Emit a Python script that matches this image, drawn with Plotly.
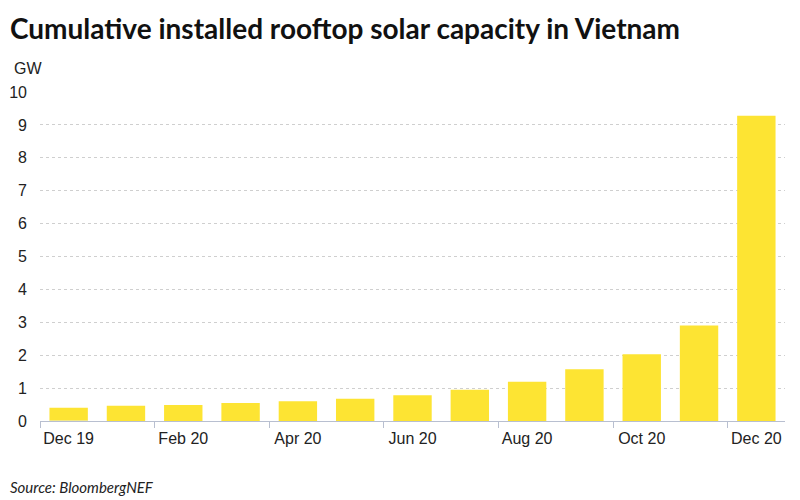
import plotly.graph_objects as go

months = ["Dec 19", "Jan 20", "Feb 20", "Mar 20", "Apr 20", "May 20", "Jun 20",
          "Jul 20", "Aug 20", "Sep 20", "Oct 20", "Nov 20", "Dec 20"]
capacity_gw = [0.40, 0.46, 0.49, 0.55, 0.60, 0.68, 0.78, 0.95, 1.19, 1.57, 2.03, 2.90, 9.28]
label_idx = [0, 2, 4, 6, 8, 10, 12]
label_text = [months[i] for i in label_idx]
tick_bounds = [-0.5, 1.5, 3.5, 5.5, 7.5, 9.5, 11.5]

OFF = 8  # page body margin
W, H = 800 - OFF, 500 - OFF
L, R, T, B = 40 - OFF, 785 - OFF, 92 - OFF, 421 - OFF
PW, PH = R - L, B - T

def px(x):
    return (x - OFF - L) / PW

def py(y):
    return (B - (y - OFF)) / PH

fig = go.Figure()
fig.add_trace(go.Bar(x=list(range(len(months))), y=capacity_gw,
                     marker=dict(color="#FDE433", line=dict(width=0)),
                     hovertext=months, showlegend=False))
fig.add_trace(go.Bar(x=[0], y=[0], xaxis="x2", marker=dict(color="rgba(0,0,0,0)"),
                     showlegend=False, hoverinfo="skip"))

fig.update_layout(
    width=W, height=H,
    paper_bgcolor="white", plot_bgcolor="white",
    margin=dict(l=L, r=W - R, t=T, b=H - B, autoexpand=False),
    bargap=0.33,
    font=dict(family="Liberation Sans, Arial", size=16, color="#222"),
    xaxis=dict(range=[-0.5, 12.5], tickvals=tick_bounds, ticktext=[""] * len(tick_bounds),
               ticks="outside", ticklen=6, tickcolor="#b8bfd0", automargin=False,
               showline=True, linecolor="#b8bfd0", linewidth=1,
               showgrid=False, zeroline=False),
    xaxis2=dict(range=[-0.5, 12.5], overlaying="x", side="bottom", automargin=False,
                tickvals=label_idx, ticktext=label_text, ticks="",
                showgrid=False, zeroline=False, showline=False,
                ticklabelstandoff=6,
                tickfont=dict(size=16, color="#222")),
    yaxis=dict(range=[0, 10], dtick=1, tick0=0, showgrid=True, automargin=False,
               gridcolor="#cfcfcf", griddash="dot", gridwidth=1,
               zeroline=False, ticks="", tickfont=dict(size=16, color="#222"),
               ticklabelstandoff=12),
    annotations=[
        dict(text="<b>Cumulative installed rooftop solar capacity in Vietnam</b>",
             x=px(8), y=py(OFF + 1), xref="paper", yref="paper", xanchor="left", yanchor="top",
             showarrow=False, font=dict(family="Lato, Open Sans", size=28, color="#111")),
        dict(text="GW", x=px(12), y=py(68), xref="paper", yref="paper",
             xanchor="left", yanchor="middle", showarrow=False,
             font=dict(size=16, color="#222")),
        dict(text="<i>Source: BloombergNEF</i>", x=px(8), y=py(487), xref="paper", yref="paper",
             xanchor="left", yanchor="middle", showarrow=False,
             font=dict(family="Lato, Open Sans", size=15, color="#222")),
    ],
)
fig.write_html("out.html")
